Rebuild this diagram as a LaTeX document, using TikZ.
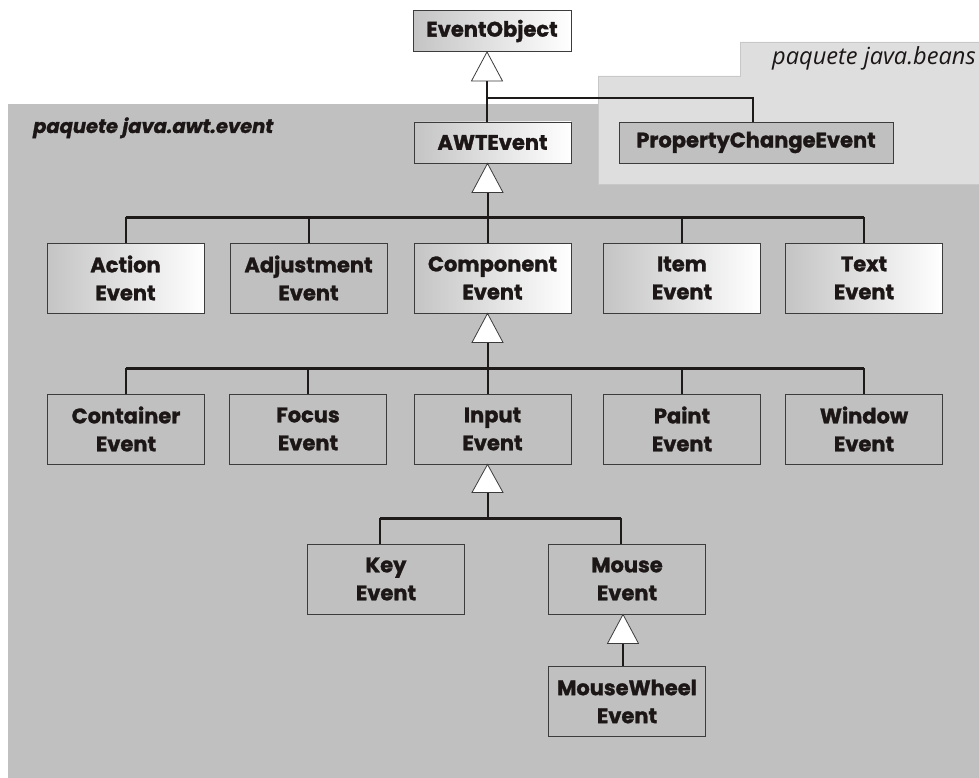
\documentclass[tikz,border=0pt]{standalone}
\usepackage{fontspec}
\setmainfont{Poppins}[BoldFeatures={FakeBold=1.3}, BoldItalicFeatures={FakeBold=1.3}]
\newfontfamily\beansfont{Open Sans}
\usetikzlibrary{calc}
\definecolor{awtgray}{RGB}{192,192,192}
\definecolor{beansgray}{RGB}{222,222,222}
\definecolor{beansedge}{RGB}{200,200,200}
\definecolor{boxline}{RGB}{60,60,60}
\definecolor{linecol}{RGB}{30,26,26}
\definecolor{gradleft}{RGB}{196,196,196}
\definecolor{txt}{RGB}{28,22,22}
\begin{document}
\begin{tikzpicture}[x=1pt,y=-1pt,
  cls/.style={draw=boxline, line width=0.9pt, minimum width=157pt, minimum height=70pt,
    inner sep=0pt, align=center, text=txt, fill=awtgray,
    font=\bfseries\fontsize{21}{28}\selectfont},
  grad/.style={left color=gradleft, right color=white},
  single/.style={minimum height=41pt},
  tri/.style={draw=boxline, line width=0.8pt, fill=white},
  vline/.style={draw=linecol, line width=2pt},
  hline/.style={draw=linecol, line width=2.6pt},
  pkglabel/.style={anchor=base west, inner sep=0pt, text=txt}
]
\useasboundingbox (0,0) rectangle (979,778);
\fill[white] (0,0) rectangle (979,778);
% packages
\fill[awtgray] (8,104) rectangle (979,778);
\draw[beansedge, fill=beansgray, line width=0.6pt]
  (598,184) -- (598,76) -- (740,76) -- (740,42) -- (981,42) -- (981,184) -- cycle;
\node[pkglabel, font=\bfseries\itshape\fontsize{19.5}{21}\selectfont] (lawt) at (33,133) {paquete java.awt.event};
\node[pkglabel, font=\beansfont\itshape\fontsize{23.6}{26}\selectfont] (lbeans) at (772,65) {paquete java.beans};

% classes
\node[cls, grad, single, minimum width=158pt] (EO) at (492,31) {EventObject};
\node[cls, grad, single] (AWT) at (492.5,142.5) {AWTEvent};
\node[cls, single, minimum width=274pt] (PCE) at (756,142.5) {PropertyChangeEvent};

\node[cls, grad] (Action) at (125.5,278) {Action\\Event};
\node[cls] (Adj) at (308.5,278) {Adjustment\\Event};
\node[cls, grad] (Comp) at (492.5,278) {Component\\Event};
\node[cls, grad] (Item) at (682,278) {Item\\Event};
\node[cls, grad] (Text) at (864,278) {Text\\Event};

\node[cls] (Cont) at (126,429) {Container\\Event};
\node[cls] (Focus) at (308,429) {Focus\\Event};
\node[cls] (Input) at (492.5,429) {Input\\Event};
\node[cls] (Paint) at (682,429) {Paint\\Event};
\node[cls] (Window) at (864,429) {Window\\Event};

\node[cls] (Key) at (386,579) {Key\\Event};
\node[cls] (Mouse) at (627,579) {Mouse\\Event};
\node[cls] (MW) at (627,701.5) {MouseWheel\\Event};

% attachment points
\coordinate (pcein) at ([xshift=-3pt]PCE.north);
\coordinate (keyin) at ([xshift=-6pt]Key.north);
\coordinate (mousein) at ([xshift=-6pt]Mouse.north);
\coordinate (compin) at ([xshift=-5pt]Comp.north);
\coordinate (inputin) at ([xshift=-5pt]Input.north);
\coordinate (mwin) at ([xshift=-4pt]MW.north);

% EventObject -> AWTEvent, PropertyChangeEvent
\coordinate (t1) at ([xshift=-5pt]EO.south);
\coordinate (t1b) at ($(t1)+(0,29)$);
\coordinate (j1) at ($(t1)+(0,46)$);
\draw[vline] (t1b) -- (t1b |- AWT.north);
\draw[hline] (j1) -- (j1 -| pcein);
\draw[vline] ([yshift=1pt]j1 -| pcein) -- (pcein);
\draw[tri] (t1) -- ++(-15.5,29) -- ++(31,0) -- cycle;

% AWTEvent -> row 1
\coordinate (t2) at ([xshift=-5pt]AWT.south);
\coordinate (t2b) at ($(t2)+(0,29)$);
\coordinate (b1) at ($(t2)+(0,54)$);
\draw[vline] (t2b) -- (b1);
\draw[hline] (b1 -| Action.north) -- (b1 -| Text.north);
\foreach \n in {Action,Adj,Item,Text}{
  \draw[vline] (b1 -| \n.north) -- (\n.north);
}
\draw[vline] (b1) -- (compin);
\draw[tri] (t2) -- ++(-15.5,29) -- ++(31,0) -- cycle;

% ComponentEvent -> row 2
\coordinate (t3) at ([xshift=-5pt]Comp.south);
\coordinate (t3b) at ($(t3)+(0,29)$);
\coordinate (b2) at ($(t3)+(0,55)$);
\draw[vline] (t3b) -- (b2);
\draw[hline] (b2 -| Cont.north) -- (b2 -| Window.north);
\foreach \n in {Cont,Focus,Paint,Window}{
  \draw[vline] (b2 -| \n.north) -- (\n.north);
}
\draw[vline] (b2) -- (inputin);
\draw[tri] (t3) -- ++(-15.5,29) -- ++(31,0) -- cycle;

% InputEvent -> Key, Mouse
\coordinate (t4) at ([xshift=-5pt]Input.south);
\coordinate (t4b) at ($(t4)+(0,28)$);
\coordinate (b3) at ($(t4)+(0,54)$);
\draw[vline] (t4b) -- (b3);
\draw[hline] (b3 -| keyin) -- (b3 -| mousein);
\draw[vline] (b3 -| keyin) -- (keyin);
\draw[vline] (b3 -| mousein) -- (mousein);
\draw[tri] (t4) -- ++(-15.5,28) -- ++(31,0) -- cycle;

% MouseEvent -> MouseWheelEvent
\coordinate (t5) at ([xshift=-4pt]Mouse.south);
\coordinate (t5b) at ($(t5)+(0,29)$);
\draw[vline] (t5b) -- (mwin);
\draw[tri] (t5) -- ++(-15.5,29) -- ++(31,0) -- cycle;
\end{tikzpicture}
\end{document}
